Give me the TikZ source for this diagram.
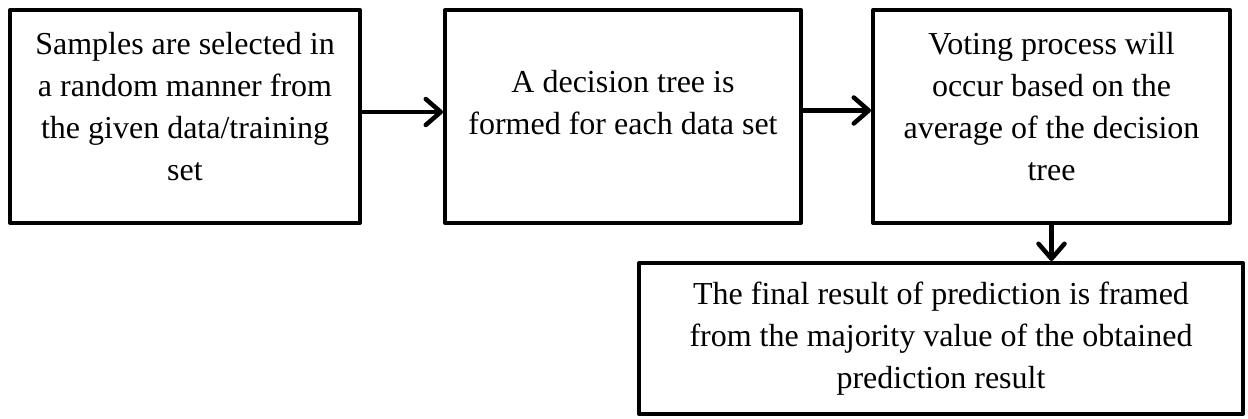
\documentclass[tikz,border=0pt]{standalone}
\usepackage{fontspec}
\setmainfont{Liberation Serif}
\usetikzlibrary{arrows.meta}
\begin{document}
\begin{tikzpicture}[x=1pt,y=-1pt,
  box/.style={draw, line width=4pt, line join=round, inner sep=0pt},
  lbl/.style={align=center, inner sep=0pt, font=\fontsize{32}{42}\selectfont},
  conn/.style={line width=4.5pt, -{Straight Barb[length=15pt,width=26pt,round]}}]
\useasboundingbox (0,0) rectangle (1248,419);
\node[box, minimum width=350pt, minimum height=213pt] (b1) at (185,116.5) {};
\node[box, minimum width=356pt, minimum height=213pt] (b2) at (623,116.5) {};
\node[box, minimum width=357pt, minimum height=213pt] (b3) at (1051.5,116.5) {};
\node[box, minimum width=604pt, minimum height=151pt] (b4) at (941,338.5) {};
\node[lbl] (t1) at (185,107) {Samples are selected in\\a random manner from\\the given data/training\\set};
\node[lbl] (t2) at (623,103) {A decision tree is\\formed for each data set};
\node[lbl] (t3) at (1051.5,107) {Voting process will\\occur based on the\\average of the decision\\tree};
\node[lbl] (t4) at (941,339) {The final result of prediction is framed\\from the majority value of the obtained\\prediction result};
\draw[conn] ([yshift=4.5pt]b1.east) -- ([yshift=4.5pt]b2.west);
\draw[conn] ([yshift=6pt]b2.east) -- ([yshift=6pt]b3.west);
\draw[conn] (b3.south) -- (b3.south |- b4.north);
\end{tikzpicture}
\end{document}
